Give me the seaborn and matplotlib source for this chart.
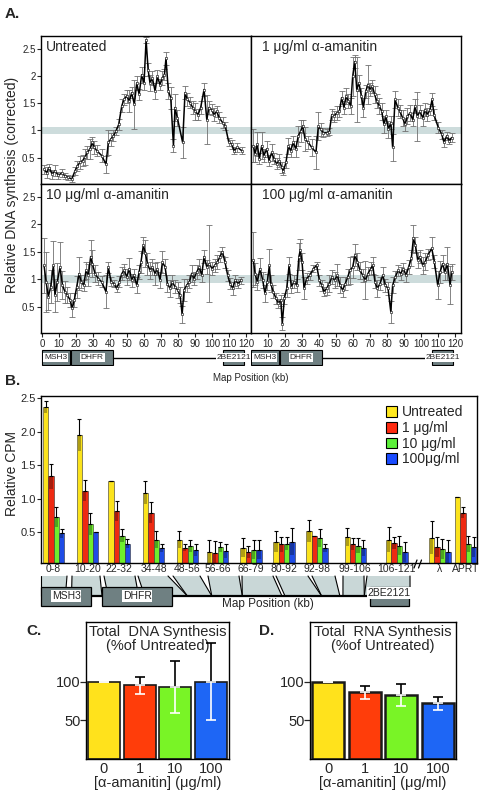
import numpy as np
import pandas as pd
import matplotlib
matplotlib.use("Agg")
import matplotlib.pyplot as plt
import matplotlib.patches as mpatches
import seaborn as sns

sns.set_theme(style="white")
plt.rcParams['font.family'] = ['Liberation Sans', 'DejaVu Sans']

# ------------------------------------------------------------
# Panel A: replication profiles along the locus (kb, value, s.e.)
# ------------------------------------------------------------
untreated_kb = [1.2, 2.7, 4.3, 5.9, 7.6, 9.6, 11.6, 13.5, 15.5, 17.5,
                19.4, 20.8, 22.4, 23.9, 25.3, 26.7, 28.2, 29.6, 30.8, 32.2,
                35.1, 37.6, 39.0, 40.4, 42.0, 43.5, 45.1, 46.9, 48.2, 49.8,
                51.4, 52.7, 54.3, 55.7, 57.1, 58.6, 60.0, 61.2, 62.4, 63.5,
                64.9, 66.5, 67.8, 69.4, 70.8, 72.0, 72.9, 74.3, 75.7, 77.3,
                78.2, 79.6, 82.7, 84.1, 85.5, 87.1, 88.6, 90.2, 91.8, 93.3,
                95.3, 96.9, 98.2, 99.8, 101.2, 102.7, 104.3, 106.3, 107.8, 109.8,
                111.6, 112.9, 114.9, 117.5]
untreated_val = [0.29, 0.23, 0.32, 0.20, 0.26, 0.18, 0.22, 0.17, 0.14, 0.11,
                 0.26, 0.35, 0.42, 0.45, 0.51, 0.60, 0.66, 0.78, 0.69, 0.63,
                 0.54, 0.38, 0.78, 0.84, 0.90, 0.99, 1.11, 1.45, 1.57, 1.63,
                 1.54, 1.69, 1.48, 1.87, 1.66, 2.02, 1.87, 2.66, 2.11, 1.87,
                 1.96, 1.72, 1.99, 1.84, 1.96, 2.02, 2.32, 1.72, 1.60, 0.72,
                 1.42, 1.23, 0.78, 1.69, 1.57, 1.51, 1.42, 1.35, 1.29, 1.42,
                 1.75, 1.20, 1.42, 1.38, 1.29, 1.35, 1.23, 1.14, 1.08, 0.79,
                 0.75, 0.63, 0.69, 0.63]
untreated_err = [0.08, 0.10, 0.06, 0.08, 0.10, 0.06, 0.08, 0.05, 0.05, 0.05,
                 0.08, 0.10, 0.12, 0.10, 0.15, 0.12, 0.18, 0.10, 0.12, 0.10,
                 0.12, 0.15, 0.22, 0.12, 0.10, 0.08, 0.10, 0.12, 0.10, 0.12,
                 0.20, 0.10, 0.45, 0.12, 0.10, 0.15, 0.12, 0.05, 0.12, 0.15,
                 0.12, 0.15, 0.12, 0.10, 0.12, 0.10, 0.12, 0.15, 0.20, 0.12,
                 0.25, 0.15, 0.28, 0.12, 0.12, 0.10, 0.12, 0.15, 0.10, 0.12,
                 0.12, 0.45, 0.12, 0.10, 0.12, 0.10, 0.10, 0.10, 0.08, 0.08,
                 0.08, 0.06, 0.08, 0.06]

ug1_kb = [1.4, 2.4, 3.7, 4.9, 6.3, 7.6, 9.2, 10.6, 12.2, 13.5,
          15.1, 16.7, 18.0, 19.0, 20.6, 22.0, 23.3, 24.9, 26.3, 27.8,
          29.2, 30.4, 31.8, 33.7, 35.7, 38.2, 39.6, 41.0, 42.5, 44.5,
          46.1, 47.5, 48.8, 50.4, 52.0, 53.3, 54.7, 55.9, 57.3, 58.6,
          59.8, 61.0, 62.2, 63.5, 64.9, 66.1, 67.5, 68.8, 70.0, 71.4,
          72.7, 73.9, 75.5, 76.9, 78.2, 79.4, 80.8, 82.2, 83.3, 84.7,
          86.3, 87.6, 89.2, 90.6, 92.0, 93.5, 95.1, 96.5, 97.8, 99.4,
          101.0, 102.4, 103.7, 105.3, 106.5, 107.6, 110.2, 112.2, 113.5, 115.1,
          116.7, 118.0]
ug1_val = [0.72, 0.57, 0.75, 0.48, 0.72, 0.54, 0.66, 0.45, 0.60, 0.48,
           0.39, 0.45, 0.33, 0.25, 0.42, 0.72, 0.63, 0.78, 0.66, 0.90,
           0.99, 1.08, 0.84, 0.78, 0.69, 0.60, 1.08, 1.02, 0.96, 0.96,
           0.98, 1.29, 1.26, 1.32, 1.35, 1.60, 1.42, 1.63, 1.54, 1.45,
           1.99, 2.26, 1.75, 1.87, 1.63, 1.42, 1.72, 1.84, 1.75, 1.81,
           1.66, 1.54, 1.45, 1.35, 1.11, 1.26, 1.02, 1.14, 0.69, 1.57,
           1.42, 1.35, 1.23, 1.11, 1.26, 1.32, 1.20, 1.45, 1.26, 1.35,
           1.23, 1.38, 1.29, 1.38, 1.57, 1.29, 1.05, 0.93, 0.78, 0.90,
           0.81, 0.87]
ug1_err = [0.30, 0.15, 0.22, 0.10, 0.25, 0.12, 0.15, 0.10, 0.15, 0.10,
           0.10, 0.12, 0.10, 0.06, 0.10, 0.15, 0.12, 0.12, 0.15, 0.18,
           0.20, 0.12, 0.22, 0.12, 0.15, 0.30, 0.25, 0.12, 0.08, 0.06,
           0.06, 0.10, 0.10, 0.12, 0.10, 0.12, 0.12, 0.15, 0.12, 0.15,
           0.35, 0.12, 0.60, 0.15, 0.15, 0.18, 0.12, 0.35, 0.12, 0.12,
           0.15, 0.12, 0.15, 0.15, 0.15, 0.12, 0.15, 0.12, 0.25, 0.15,
           0.15, 0.12, 0.15, 0.12, 0.15, 0.15, 0.12, 0.12, 0.45, 0.12,
           0.15, 0.12, 0.12, 0.10, 0.12, 0.10, 0.10, 0.08, 0.08, 0.08,
           0.06, 0.08]

ug10_kb = [1.2, 2.4, 3.7, 5.1, 6.7, 7.6, 9.0, 10.6, 12.0, 13.5,
           14.9, 16.5, 17.8, 19.0, 20.4, 21.8, 23.1, 24.5, 25.9, 27.3,
           28.6, 29.6, 31.2, 33.1, 35.1, 37.6, 39.0, 40.6, 42.4, 43.9,
           45.5, 46.9, 48.4, 49.8, 51.4, 52.7, 54.1, 55.7, 57.1, 58.2,
           59.6, 60.8, 62.0, 63.5, 64.9, 66.5, 67.8, 69.4, 70.8, 72.4,
           73.7, 75.3, 76.7, 78.2, 79.8, 81.2, 82.4, 83.5, 85.1, 86.7,
           88.0, 89.4, 91.0, 92.5, 93.9, 95.3, 96.9, 98.4, 100.0, 101.6,
           103.1, 104.7, 106.1, 107.6, 109.2, 110.6, 112.2, 113.5, 115.5, 117.1]
ug10_val = [1.25, 0.95, 0.68, 0.86, 1.25, 0.71, 0.95, 1.22, 0.89, 0.77,
            0.71, 0.62, 0.47, 0.62, 0.86, 1.10, 0.95, 0.89, 1.16, 1.07,
            1.41, 1.28, 1.10, 1.01, 0.95, 0.77, 1.22, 0.95, 0.92, 0.83,
            0.95, 1.10, 1.16, 1.04, 1.19, 0.98, 1.07, 0.89, 1.13, 1.31,
            1.62, 1.47, 1.28, 1.16, 1.22, 1.10, 1.19, 0.98, 1.31, 1.22,
            0.92, 0.83, 0.95, 0.86, 0.80, 0.71, 0.36, 0.80, 0.89, 0.95,
            1.10, 1.01, 1.13, 1.22, 1.07, 1.41, 1.22, 1.28, 1.19, 1.25,
            1.31, 1.41, 1.50, 1.31, 1.07, 0.92, 0.83, 0.98, 0.92, 0.98]
ug10_err = [0.50, 0.55, 0.25, 0.30, 0.45, 0.30, 0.35, 0.45, 0.25, 0.20,
            0.15, 0.12, 0.15, 0.12, 0.20, 0.30, 0.12, 0.10, 0.15, 0.20,
            0.30, 0.25, 0.15, 0.12, 0.10, 0.30, 0.10, 0.08, 0.06, 0.06,
            0.10, 0.12, 0.12, 0.15, 0.20, 0.12, 0.12, 0.15, 0.12, 0.20,
            0.15, 0.25, 0.20, 0.15, 0.15, 0.20, 0.12, 0.15, 0.20, 0.15,
            0.15, 0.15, 0.12, 0.12, 0.15, 0.15, 0.15, 0.20, 0.12, 0.12,
            0.15, 0.12, 0.12, 0.15, 0.12, 0.12, 0.12, 0.70, 0.12, 0.12,
            0.12, 0.10, 0.08, 0.10, 0.10, 0.10, 0.12, 0.10, 0.08, 0.06]

ug100_kb = [1.4, 2.4, 3.7, 5.3, 6.9, 8.2, 9.6, 10.8, 11.6, 13.1,
            14.7, 16.1, 17.5, 18.4, 19.6, 21.0, 22.4, 23.7, 25.3, 26.9,
            28.2, 29.0, 30.0, 31.2, 32.7, 34.7, 36.7, 38.6, 40.2, 41.6,
            42.9, 44.5, 46.1, 47.6, 49.2, 50.8, 52.4, 53.9, 55.5, 56.9,
            58.2, 59.8, 61.2, 62.5, 64.1, 65.7, 67.3, 68.8, 70.4, 71.6,
            72.9, 74.3, 75.9, 77.5, 79.0, 80.6, 82.2, 83.3, 84.9, 86.5,
            88.0, 89.6, 91.2, 92.7, 94.3, 95.5, 96.7, 98.0, 99.4, 101.0,
            102.5, 104.1, 106.3, 107.8, 109.8, 111.2, 112.7, 114.1, 115.5, 117.1,
            118.0]
ug100_val = [1.35, 1.10, 0.95, 1.19, 0.98, 0.74, 0.95, 1.25, 0.92, 0.77,
             0.65, 0.56, 0.62, 0.19, 0.65, 0.83, 1.25, 0.86, 0.95, 0.89,
             1.41, 1.53, 1.32, 0.83, 1.01, 1.07, 1.19, 1.25, 0.98, 0.89,
             0.77, 0.83, 0.92, 1.04, 0.98, 1.07, 0.89, 0.80, 0.92, 1.04,
             1.16, 1.22, 1.44, 1.32, 1.16, 1.07, 0.98, 1.10, 1.19, 1.25,
             0.95, 0.83, 0.92, 1.07, 0.89, 0.83, 0.41, 0.89, 1.04, 1.16,
             1.10, 1.19, 1.07, 1.22, 1.38, 1.74, 1.62, 1.35, 1.41, 1.25,
             1.32, 1.44, 1.56, 1.32, 0.89, 1.13, 1.28, 1.13, 1.28, 0.89,
             1.13]
ug100_err = [0.50, 0.20, 0.15, 0.20, 0.15, 0.15, 0.15, 0.30, 0.15, 0.12,
             0.10, 0.08, 0.10, 0.12, 0.10, 0.15, 0.15, 0.12, 0.12, 0.12,
             0.25, 0.20, 0.15, 0.20, 0.10, 0.08, 0.06, 0.06, 0.10, 0.10,
             0.08, 0.12, 0.15, 0.12, 0.15, 0.20, 0.15, 0.12, 0.12, 0.15,
             0.25, 0.20, 0.20, 0.15, 0.15, 0.12, 0.35, 0.12, 0.12, 0.15,
             0.12, 0.15, 0.12, 0.15, 0.12, 0.12, 0.20, 0.15, 0.10, 0.10,
             0.12, 0.10, 0.12, 0.12, 0.15, 0.25, 0.15, 0.15, 0.12, 0.15,
             0.15, 0.10, 0.20, 0.12, 0.25, 0.20, 0.15, 0.15, 0.30, 0.35,
             0.15]

panel_titles = ["Untreated", "1 μg/ml α-amanitin",
                "10 μg/ml α-amanitin", "100 μg/ml α-amanitin"]

# genes on the map (kb)
gene_names = ["MSH3", "DHFR", "2BE2121"]
genes_a_kb = [(0.0, 16.3), (17.0, 42.0), (106.5, 119.0)]
genes_b_kb = [(0.0, 16.5), (20.0, 43.0), (108.0, 120.5)]

# ------------------------------------------------------------
# Panel B: nascent strand CPM per fragment
# ------------------------------------------------------------
fragments = ["0-8", "10-20", "22-32", "34-48", "48-56", "56-66", "66-79",
             "80-92", "92-98", "99-106", "106-121", "λ", "APRT"]
fragment_kb = [(0, 8), (10, 20), (22, 32), (34, 48), (48, 56), (56, 66),
               (66, 79), (80, 92), (92, 98), (99, 106), (106, 121)]
cpm_untreated = [2.37, 1.95, 1.27, 1.09, 0.39, 0.21, 0.27, 0.36, 0.52, 0.43, 0.39, 0.42, 1.03]
cpm_untreated_err = [0.09, 0.24, 0.00, 0.17, 0.12, 0.17, 0.14, 0.15, 0.16, 0.13, 0.18, 0.24, 0.00]
cpm_1 = [1.33, 1.12, 0.81, 0.79, 0.27, 0.19, 0.21, 0.32, 0.44, 0.32, 0.34, 0.28, 0.79]
cpm_1_err = [0.19, 0.16, 0.15, 0.16, 0.05, 0.18, 0.09, 0.11, 0.00, 0.09, 0.09, 0.15, 0.08]
cpm_10 = [0.72, 0.62, 0.45, 0.39, 0.29, 0.28, 0.24, 0.33, 0.41, 0.30, 0.30, 0.25, 0.32]
cpm_10_err = [0.15, 0.16, 0.10, 0.13, 0.09, 0.08, 0.14, 0.10, 0.13, 0.11, 0.14, 0.15, 0.12]
cpm_100 = [0.48, 0.50, 0.33, 0.27, 0.24, 0.22, 0.24, 0.36, 0.26, 0.27, 0.21, 0.21, 0.28]
cpm_100_err = [0.07, 0.00, 0.07, 0.06, 0.09, 0.10, 0.14, 0.20, 0.06, 0.12, 0.15, 0.18, 0.15]
b_labels = ["Untreated", "1 μg/ml", "10 μg/ml", "100μg/ml"]

# ------------------------------------------------------------
# Panels C, D: total synthesis (% of untreated)
# ------------------------------------------------------------
doses = ["0", "1", "10", "100"]
dna_pct = [100, 95, 93, 100]
dna_err = [0, 11.5, 33.5, 50]
rna_pct = [100, 86, 83, 72]
rna_err = [0, 8.5, 14, 8.5]

# ------------------------------------------------------------
# layout helpers (figure pixels, origin top-left)
# ------------------------------------------------------------
W, H = 480, 792
fig = plt.figure(figsize=(4.8, 7.92), dpi=100)


def px_axes(l, t, r, b):
    return fig.add_axes([l / W, 1 - b / H, (r - l) / W, (b - t) / H])


def style_spines(ax, lw=1.0):
    for s in ax.spines.values():
        s.set_visible(True)
        s.set_color("black")
        s.set_linewidth(lw)


# ---------------- Panel A ----------------
series_a = [(untreated_kb, untreated_val, untreated_err),
            (ug1_kb, ug1_val, ug1_err),
            (ug10_kb, ug10_val, ug10_err),
            (ug100_kb, ug100_val, ug100_err)]
boxes_a = [(41, 36, 251, 184), (251, 36, 461, 184),
           (41, 184, 251, 333), (251, 184, 461, 333)]

for i, ((kb, val, err), box) in enumerate(zip(series_a, boxes_a)):
    ax = px_axes(*box)
    left = i % 2 == 0
    bottom = i >= 2
    ax.axhspan(0.93, 1.07, color="#cddcdc", lw=0, zorder=0)
    ax.errorbar(kb, val, yerr=err, fmt="none", ecolor="#707070",
                elinewidth=0.6, capsize=2.2, capthick=0.6, zorder=2)
    sns.lineplot(x=kb, y=val, ax=ax, color="black", lw=1.1, marker="o",
                 markersize=1.8, markerfacecolor="white", markeredgecolor="black",
                 markeredgewidth=0.4, estimator=None, sort=False, zorder=3)
    ax.set_ylim(0.02, 2.73)
    ax.set_xlim((-0.6, 122.9) if left else (0, 123.5))
    style_spines(ax)
    ax.tick_params(direction="out", length=3, width=0.8, labelsize=7, pad=1,
                   left=left, bottom=bottom, labelleft=left, labelbottom=bottom)
    ax.set_yticks([0.5, 1, 1.5, 2, 2.5])
    ax.set_yticklabels(["0.5", "1", "1.5", "2", "2.5"])
    if left:
        ax.set_xticks(range(0, 121, 10))
    else:
        ax.set_xticks(range(10, 121, 10))
    ax.set_xlabel("")
    ax.set_ylabel("")
    ax.text(0.024 if left else 0.05, 0.975, panel_titles[i], transform=ax.transAxes,
            fontsize=10, va="top", ha="left")

fig.text(12 / W, 1 - 185 / H, "Relative DNA synthesis (corrected)", rotation=90,
         ha="center", va="center", fontsize=10)

# gene maps under panel A
for l, r, xl in [(41, 251, (-0.6, 122.9)), (251, 461, (0, 123.5))]:
    mp = px_axes(l, 349, r, 366)
    mp.set_xlim(*xl)
    mp.set_ylim(0, 1)
    mp.axis("off")
    mp.plot([genes_a_kb[1][1], genes_a_kb[2][0]], [0.5, 0.5], color="black", lw=1.0)
    for name, (g0, g1) in zip(gene_names, genes_a_kb):
        mp.add_patch(mpatches.Rectangle((g0, 0.04), g1 - g0, 0.92, fc="#6f8082",
                                        ec="black", lw=0.8))
        mp.text((g0 + g1) / 2, 0.5, name, ha="center", va="center", fontsize=6,
                clip_on=True,
                bbox=dict(fc="white", ec="none", pad=0.6))

fig.text(251 / W, 1 - 378 / H, "Map Position (kb)", ha="center", va="center", fontsize=7)

# ---------------- Panel B ----------------
axB = px_axes(41, 396, 477, 563)
group_px = np.array([53.6, 87.5, 119.2, 153.5, 187.5, 217.5, 251, 284, 317,
                     355.3, 396.7, 439.7, 465.5])
bw = 5.4
b_colors = ["#FBE31C", "#EE2A12", "#6FEE2C", "#1F4CE6"]
b_series = [(cpm_untreated, cpm_untreated_err), (cpm_1, cpm_1_err),
            (cpm_10, cpm_10_err), (cpm_100, cpm_100_err)]
for k, ((vals, errs), col) in enumerate(zip(b_series, b_colors)):
    xs = group_px + (k - 1.5) * bw
    vals = np.array(vals)
    errs = np.array(errs)
    axB.bar(xs, vals, width=bw, color=col, edgecolor="#333333", lw=0.4, zorder=2)
    axB.bar(xs, errs, bottom=vals - errs, width=bw * 0.6, color="black",
            alpha=0.3, lw=0, zorder=3)
    axB.errorbar(xs, vals, yerr=[np.zeros_like(errs), errs], fmt="none",
                 ecolor="black", elinewidth=0.8, capsize=1.6, capthick=0.8, zorder=4)
axB.set_xlim(41, 477)
axB.set_ylim(0.04, 2.53)
axB.set_yticks([0.5, 1.0, 1.5, 2.0, 2.5])
axB.set_yticklabels(["0.5", "1.0", "1.5", "2.0", "2.5"])
axB.set_xticks(group_px)
axB.set_xticklabels(fragments)
axB.tick_params(axis="y", direction="out", length=3, width=0.8, labelsize=8, pad=1, left=True)
axB.tick_params(axis="x", length=0, labelsize=7.5, pad=1)
style_spines(axB)
handles = [mpatches.Patch(facecolor=c, edgecolor="black", lw=0.8, label=lab)
           for c, lab in zip(["#FFE81E", "#FF2A10", "#5CF03A", "#1A4BFF"], b_labels)]
axB.legend(handles=handles, loc="upper right", frameon=False, fontsize=10,
           handlelength=0.8, handleheight=0.8, handletextpad=0.4,
           labelspacing=0.12, borderaxespad=0.4, bbox_to_anchor=(0.995, 1.01))
fig.text(12 / W, 1 - 474 / H, "Relative CPM", rotation=90, ha="center",
         va="center", fontsize=10)

# ---------------- Panel C and D ----------------
cd_palette = dict(zip(doses, ["#FFE21C", "#FF3D0A", "#79F426", "#1E66F5"]))
for (l, r), pct, err, title1, edge_lw in [((86, 229), dna_pct, dna_err, "Total  DNA Synthesis", 1.2),
                                          ((310, 456), rna_pct, rna_err, "Total  RNA Synthesis", 1.8)]:
    ax = px_axes(l, 622, r, 759)
    df = pd.DataFrame({"dose": doses, "pct": pct})
    sns.barplot(data=df, x="dose", y="pct", hue="dose", palette=cd_palette,
                order=doses, hue_order=doses, width=0.89, edgecolor="#1a1a1a",
                linewidth=edge_lw, errorbar=None, legend=False, saturation=1, ax=ax)
    xs = np.arange(len(doses))
    e = np.array(err)
    ax.errorbar(xs, pct, yerr=[np.zeros_like(e), e], fmt="none", ecolor="black",
                elinewidth=1.2, capsize=3.5, capthick=1.2, zorder=5)
    ax.errorbar(xs, pct, yerr=[e, np.zeros_like(e)], fmt="none", ecolor="white",
                elinewidth=1.2, capsize=3.5, capthick=1.2, zorder=5)
    ax.set_xlim(-0.5, 3.5)
    ax.set_ylim(0, 177)
    ax.set_yticks([50, 100])
    ax.set_yticklabels(["50", "100"])
    ax.set_ylabel("")
    ax.set_xlabel("[α-amanitin] (μg/ml)", fontsize=10.5, labelpad=0)
    ax.tick_params(axis="y", direction="out", length=4, width=0.9, labelsize=10.5, pad=0, left=True)
    ax.tick_params(axis="x", length=0, labelsize=10.5, pad=2)
    style_spines(ax)
    ax.text(0.5, 1 - 10 / 137, title1, transform=ax.transAxes, ha="center",
            va="center", fontsize=10.5)
    ax.text(0.5, 1 - 24 / 137, "(%of Untreated)", transform=ax.transAxes,
            ha="center", va="center", fontsize=10.5)

# ---------------- overlay: letters, map of panel B ----------------
ov = px_axes(0, 0, W, H)
ov.set_xlim(0, W)
ov.set_ylim(H, 0)
ov.axis("off")

for letter, x, y in [("A.", 5, 14), ("B.", 5, 381), ("C.", 26, 631), ("D.", 259, 631)]:
    ov.text(x, y, letter, fontsize=11, fontweight="bold", ha="left", va="center")

# axis break on panel B
for x0 in (414, 418.5):
    ov.plot([x0, x0 + 3], [568, 560], color="black", lw=0.9)


def kb_to_px_b(kb):
    return 41 + kb * 3.05


top_spans = [(41, 67), (72, 100), (104, 135), (138, 168), (173, 200), (208, 239),
             (242, 273), (276, 308), (312, 335), (343, 364), (367, 410)]
for (t0, t1), (k0, k1) in zip(top_spans, fragment_kb):
    b0, b1 = kb_to_px_b(k0), kb_to_px_b(k1)
    ov.add_patch(mpatches.Polygon([(t0, 576), (t1, 576), (b1, 596), (b0, 596)],
                                  closed=True, fc="#c9d7d7", ec="none", zorder=1))
    ov.plot([t0, b0], [576, 596], color="black", lw=0.8, zorder=2)
    ov.plot([t1, b1], [576, 596], color="black", lw=0.8, zorder=2)

gb = [(kb_to_px_b(g0), kb_to_px_b(g1)) for g0, g1 in genes_b_kb]
ov.plot([gb[0][1], gb[2][0]], [596, 596], color="black", lw=1.6, zorder=3)
for name, (x0, x1) in zip(gene_names, gb):
    ov.add_patch(mpatches.Rectangle((x0, 587), x1 - x0, 19, fc="#6f8082",
                                    ec="black", lw=0.9, zorder=4))
    ty = 596 if name != "2BE2121" else 593
    ov.text((x0 + x1) / 2, ty, name, ha="center", va="center", fontsize=7.5,
            zorder=5, bbox=dict(fc="white", ec="none", pad=0.6))

ov.text(268, 604, "Map Position (kb)", ha="center", va="center", fontsize=8.5, zorder=5)

fig.savefig("out.png", dpi=100)
